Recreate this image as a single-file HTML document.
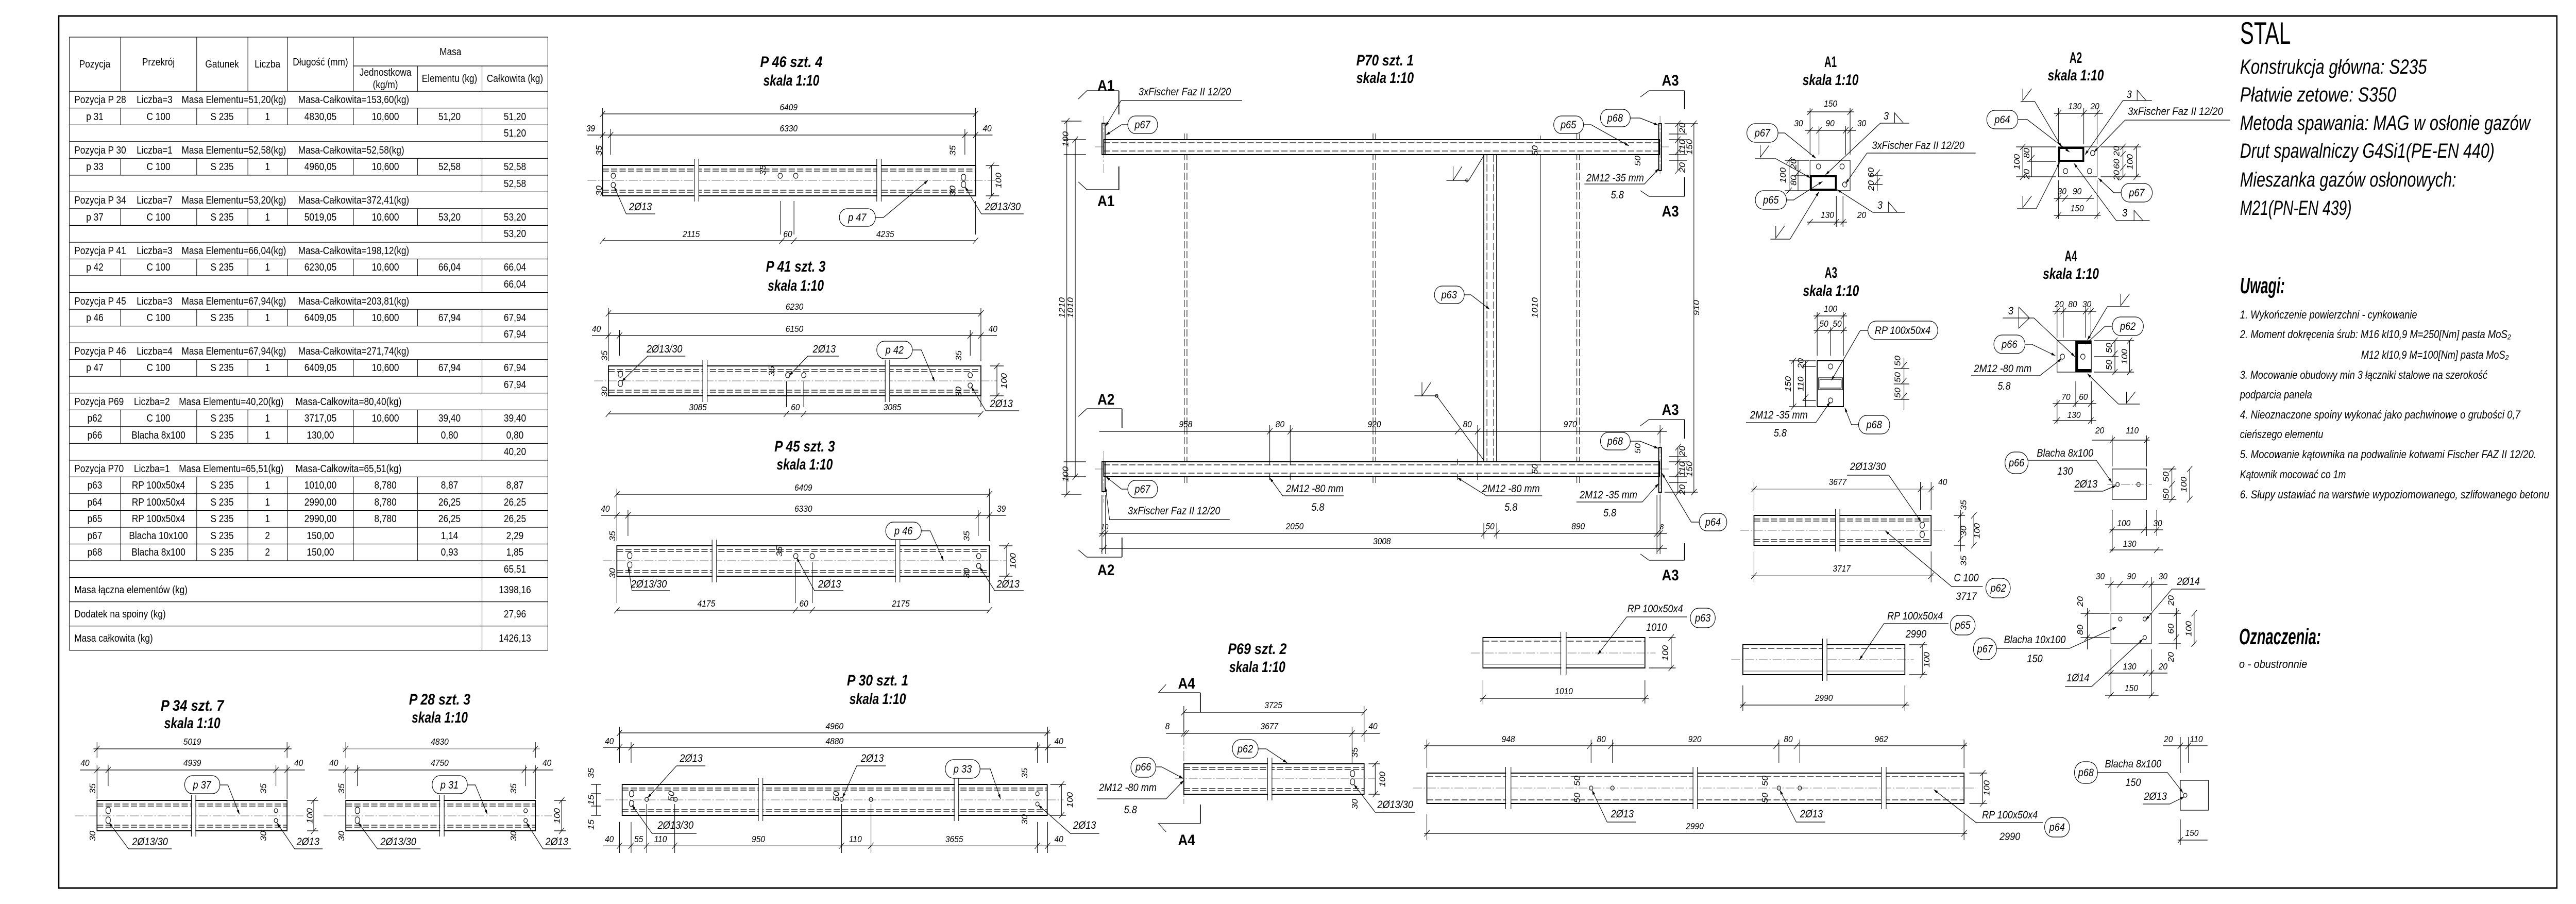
<!DOCTYPE html>
<html><head><meta charset="utf-8"><style>
html,body{margin:0;padding:0;background:#fff;width:100%;height:100%;overflow:hidden}
svg{display:block;width:100vw;height:100vh}
.o{fill:none;stroke:#000;stroke-width:2}
.ow{fill:#fff;stroke:#000;stroke-width:2}
.t{fill:none;stroke:#000;stroke-width:1.2}
.g{fill:none;stroke:#999;stroke-width:1.5}
.d{fill:none;stroke:#000;stroke-width:1.2;stroke-dasharray:14 5}
.c{fill:none;stroke:#777;stroke-width:1.1;stroke-dasharray:20 4 3 4}
.b{fill:#fff;stroke:#000;stroke-width:1.2}
.w{fill:#fff;stroke:none}
text{font-family:"Liberation Sans",sans-serif;font-size:18px;font-style:italic;fill:#000}
.m{text-anchor:middle}
.ti{font-size:30px;font-weight:bold;font-style:italic;text-anchor:middle}
.lb{font-size:21px;text-anchor:middle}
.sx{font-size:30px;font-weight:bold;font-style:normal;text-anchor:middle}
.tb{font-size:20px;font-style:normal}
.tbc{font-size:20px;font-style:normal;text-anchor:middle}
.r{font-size:40px}
.n{font-size:22px}
</style></head><body>
<svg viewBox="0 0 5788 1754" preserveAspectRatio="none" xmlns="http://www.w3.org/2000/svg">
<defs><marker id="a" viewBox="0 0 10 10" refX="10" refY="5" markerWidth="9" markerHeight="9" orient="auto" markerUnits="userSpaceOnUse"><path d="M0 2L10 5L0 8z"/></marker></defs>
<rect x="0" y="0" width="5788" height="1754" fill="#fff"/>
<rect x="132" y="31" width="5613" height="1692" fill="none" stroke="#000" stroke-width="3"/>

<!-- TABLE -->
<g>
<rect x="156" y="72" width="1075" height="1189.7" class="t"/>
<path class="t" d="M794 128H1231M156 177.2H1231M271 72V177.2M442 72V177.2M557 72V177.2M646 72V177.2M794 72V177.2M938 128V177.2M1083 128V177.2"/>
<path class="t" d="M156 209.7H1231M156 242.3H1231M156 274.8H1231M156 307.3H1231M156 339.9H1231M156 372.4H1231M156 404.9H1231M156 437.4H1231M156 470H1231M156 502.5H1231M156 535H1231M156 567.6H1231M156 600.1H1231M156 632.6H1231M156 665.2H1231M156 697.7H1231M156 730.2H1231M156 762.7H1231M156 795.3H1231M156 827.8H1231M156 860.3H1231M156 892.9H1231M156 925.4H1231M156 957.9H1231M156 990.6H1231M156 1023H1231M156 1055.5H1231M156 1088H1231M156 1120.5H1231M156 1167.6H1231M156 1214.6H1231"/>
<path class="t" d="M271 209.7V242.3M442 209.7V242.3M557 209.7V242.3M646 209.7V242.3M794 209.7V242.3M938 209.7V242.3M1083 209.7V274.8
M271 307.3V339.9M442 307.3V339.9M557 307.3V339.9M646 307.3V339.9M794 307.3V339.9M938 307.3V339.9M1083 307.3V372.4
M271 404.9V437.4M442 404.9V437.4M557 404.9V437.4M646 404.9V437.4M794 404.9V437.4M938 404.9V437.4M1083 404.9V470
M271 502.5V535M442 502.5V535M557 502.5V535M646 502.5V535M794 502.5V535M938 502.5V535M1083 502.5V567.6
M271 600.1V632.6M442 600.1V632.6M557 600.1V632.6M646 600.1V632.6M794 600.1V632.6M938 600.1V632.6M1083 600.1V665.2
M271 697.7V730.2M442 697.7V730.2M557 697.7V730.2M646 697.7V730.2M794 697.7V730.2M938 697.7V730.2M1083 697.7V762.7
M271 795.3V860.3M442 795.3V860.3M557 795.3V860.3M646 795.3V860.3M794 795.3V860.3M938 795.3V860.3M1083 795.3V892.9
M271 925.4V1088M442 925.4V1088M557 925.4V1088M646 925.4V1088M794 925.4V1088M938 925.4V1088M1083 925.4V1261.7"/>
<text class="tbc" x="213" y="131">Pozycja</text>
<text class="tbc" x="356" y="127">Przekrój</text>
<text class="tbc" x="499" y="131">Gatunek</text>
<text class="tbc" x="601" y="131">Liczba</text>
<text class="tbc" x="720" y="127">Długość (mm)</text>
<text class="tbc" x="1012" y="107">Masa</text>
<text class="tbc" x="866" y="147">Jednostkowa</text>
<text class="tbc" x="866" y="171">(kg/m)</text>
<text class="tbc" x="1010" y="159">Elementu (kg)</text>
<text class="tbc" x="1157" y="159">Całkowita (kg)</text>
<g>
<text class="tb" x="167" y="200">Pozycja P 28</text><text class="tb" x="307" y="200">Liczba=3</text><text class="tb" x="408" y="200">Masa Elementu=51,20(kg)</text><text class="tb" x="670" y="200">Masa-Całkowita=153,60(kg)</text>
<text class="tb" x="167" y="298">Pozycja P 30</text><text class="tb" x="307" y="298">Liczba=1</text><text class="tb" x="408" y="298">Masa Elementu=52,58(kg)</text><text class="tb" x="670" y="298">Masa-Całkowita=52,58(kg)</text>
<text class="tb" x="167" y="395">Pozycja P 34</text><text class="tb" x="307" y="395">Liczba=7</text><text class="tb" x="408" y="395">Masa Elementu=53,20(kg)</text><text class="tb" x="670" y="395">Masa-Całkowita=372,41(kg)</text>
<text class="tb" x="167" y="493">Pozycja P 41</text><text class="tb" x="307" y="493">Liczba=3</text><text class="tb" x="408" y="493">Masa Elementu=66,04(kg)</text><text class="tb" x="670" y="493">Masa-Całkowita=198,12(kg)</text>
<text class="tb" x="167" y="591">Pozycja P 45</text><text class="tb" x="307" y="591">Liczba=3</text><text class="tb" x="408" y="591">Masa Elementu=67,94(kg)</text><text class="tb" x="670" y="591">Masa-Całkowita=203,81(kg)</text>
<text class="tb" x="167" y="688">Pozycja P 46</text><text class="tb" x="307" y="688">Liczba=4</text><text class="tb" x="408" y="688">Masa Elementu=67,94(kg)</text><text class="tb" x="670" y="688">Masa-Całkowita=271,74(kg)</text>
<text class="tb" x="167" y="786">Pozycja P69</text><text class="tb" x="301" y="786">Liczba=2</text><text class="tb" x="402" y="786">Masa Elementu=40,20(kg)</text><text class="tb" x="664" y="786">Masa-Całkowita=80,40(kg)</text>
<text class="tb" x="167" y="916">Pozycja P70</text><text class="tb" x="301" y="916">Liczba=1</text><text class="tb" x="402" y="916">Masa Elementu=65,51(kg)</text><text class="tb" x="664" y="916">Masa-Całkowita=65,51(kg)</text>
</g>
<g>
<text class="tbc" x="213" y="233">p 31</text><text class="tbc" x="356" y="233">C 100</text><text class="tbc" x="499" y="233">S 235</text><text class="tbc" x="601" y="233">1</text><text class="tbc" x="720" y="233">4830,05</text><text class="tbc" x="866" y="233">10,600</text><text class="tbc" x="1010" y="233">51,20</text><text class="tbc" x="1157" y="233">51,20</text>
<text class="tbc" x="1157" y="265">51,20</text>
<text class="tbc" x="213" y="330">p 33</text><text class="tbc" x="356" y="330">C 100</text><text class="tbc" x="499" y="330">S 235</text><text class="tbc" x="601" y="330">1</text><text class="tbc" x="720" y="330">4960,05</text><text class="tbc" x="866" y="330">10,600</text><text class="tbc" x="1010" y="330">52,58</text><text class="tbc" x="1157" y="330">52,58</text>
<text class="tbc" x="1157" y="363">52,58</text>
<text class="tbc" x="213" y="428">p 37</text><text class="tbc" x="356" y="428">C 100</text><text class="tbc" x="499" y="428">S 235</text><text class="tbc" x="601" y="428">1</text><text class="tbc" x="720" y="428">5019,05</text><text class="tbc" x="866" y="428">10,600</text><text class="tbc" x="1010" y="428">53,20</text><text class="tbc" x="1157" y="428">53,20</text>
<text class="tbc" x="1157" y="460">53,20</text>
<text class="tbc" x="213" y="525">p 42</text><text class="tbc" x="356" y="525">C 100</text><text class="tbc" x="499" y="525">S 235</text><text class="tbc" x="601" y="525">1</text><text class="tbc" x="720" y="525">6230,05</text><text class="tbc" x="866" y="525">10,600</text><text class="tbc" x="1010" y="525">66,04</text><text class="tbc" x="1157" y="525">66,04</text>
<text class="tbc" x="1157" y="558">66,04</text>
<text class="tbc" x="213" y="623">p 46</text><text class="tbc" x="356" y="623">C 100</text><text class="tbc" x="499" y="623">S 235</text><text class="tbc" x="601" y="623">1</text><text class="tbc" x="720" y="623">6409,05</text><text class="tbc" x="866" y="623">10,600</text><text class="tbc" x="1010" y="623">67,94</text><text class="tbc" x="1157" y="623">67,94</text>
<text class="tbc" x="1157" y="655">67,94</text>
<text class="tbc" x="213" y="720">p 47</text><text class="tbc" x="356" y="720">C 100</text><text class="tbc" x="499" y="720">S 235</text><text class="tbc" x="601" y="720">1</text><text class="tbc" x="720" y="720">6409,05</text><text class="tbc" x="866" y="720">10,600</text><text class="tbc" x="1010" y="720">67,94</text><text class="tbc" x="1157" y="720">67,94</text>
<text class="tbc" x="1157" y="753">67,94</text>
<text class="tbc" x="213" y="818">p62</text><text class="tbc" x="356" y="818">C 100</text><text class="tbc" x="499" y="818">S 235</text><text class="tbc" x="601" y="818">1</text><text class="tbc" x="720" y="818">3717,05</text><text class="tbc" x="866" y="818">10,600</text><text class="tbc" x="1010" y="818">39,40</text><text class="tbc" x="1157" y="818">39,40</text>
<text class="tbc" x="213" y="851">p66</text><text class="tbc" x="356" y="851">Blacha 8x100</text><text class="tbc" x="499" y="851">S 235</text><text class="tbc" x="601" y="851">1</text><text class="tbc" x="720" y="851">130,00</text><text class="tbc" x="1010" y="851">0,80</text><text class="tbc" x="1157" y="851">0,80</text>
<text class="tbc" x="1157" y="883">40,20</text>
<text class="tbc" x="213" y="948">p63</text><text class="tbc" x="356" y="948">RP 100x50x4</text><text class="tbc" x="499" y="948">S 235</text><text class="tbc" x="601" y="948">1</text><text class="tbc" x="720" y="948">1010,00</text><text class="tbc" x="866" y="948">8,780</text><text class="tbc" x="1010" y="948">8,87</text><text class="tbc" x="1157" y="948">8,87</text>
<text class="tbc" x="213" y="981">p64</text><text class="tbc" x="356" y="981">RP 100x50x4</text><text class="tbc" x="499" y="981">S 235</text><text class="tbc" x="601" y="981">1</text><text class="tbc" x="720" y="981">2990,00</text><text class="tbc" x="866" y="981">8,780</text><text class="tbc" x="1010" y="981">26,25</text><text class="tbc" x="1157" y="981">26,25</text>
<text class="tbc" x="213" y="1013">p65</text><text class="tbc" x="356" y="1013">RP 100x50x4</text><text class="tbc" x="499" y="1013">S 235</text><text class="tbc" x="601" y="1013">1</text><text class="tbc" x="720" y="1013">2990,00</text><text class="tbc" x="866" y="1013">8,780</text><text class="tbc" x="1010" y="1013">26,25</text><text class="tbc" x="1157" y="1013">26,25</text>
<text class="tbc" x="213" y="1046">p67</text><text class="tbc" x="356" y="1046">Blacha 10x100</text><text class="tbc" x="499" y="1046">S 235</text><text class="tbc" x="601" y="1046">2</text><text class="tbc" x="720" y="1046">150,00</text><text class="tbc" x="1010" y="1046">1,14</text><text class="tbc" x="1157" y="1046">2,29</text>
<text class="tbc" x="213" y="1078">p68</text><text class="tbc" x="356" y="1078">Blacha 8x100</text><text class="tbc" x="499" y="1078">S 235</text><text class="tbc" x="601" y="1078">2</text><text class="tbc" x="720" y="1078">150,00</text><text class="tbc" x="1010" y="1078">0,93</text><text class="tbc" x="1157" y="1078">1,85</text>
<text class="tbc" x="1157" y="1111">65,51</text>
<text class="tb" x="167" y="1151">Masa łączna elementów (kg)</text><text class="tbc" x="1157" y="1151">1398,16</text>
<text class="tb" x="167" y="1198">Dodatek na spoiny (kg)</text><text class="tbc" x="1157" y="1198">27,96</text>
<text class="tb" x="167" y="1245">Masa całkowita (kg)</text><text class="tbc" x="1157" y="1245">1426,13</text>
</g>
</g>

<!-- RIGHT TEXT -->
<g>
<text x="5033" y="85" style="font-size:60px;font-style:normal" textLength="114" lengthAdjust="spacingAndGlyphs">STAL</text>
<text class="r" x="5033" y="143" textLength="420" lengthAdjust="spacingAndGlyphs">Konstrukcja główna: S235</text>
<text class="r" x="5033" y="197" textLength="351" lengthAdjust="spacingAndGlyphs">Płatwie zetowe: S350</text>
<text class="r" x="5033" y="252" textLength="652" lengthAdjust="spacingAndGlyphs">Metoda spawania: MAG w osłonie gazów</text>
<text class="r" x="5033" y="306" textLength="572" lengthAdjust="spacingAndGlyphs">Drut spawalniczy G4Si1(PE-EN 440)</text>
<text class="r" x="5033" y="362" textLength="486" lengthAdjust="spacingAndGlyphs">Mieszanka gazów osłonowych:</text>
<text class="r" x="5033" y="417" textLength="251" lengthAdjust="spacingAndGlyphs">M21(PN-EN 439)</text>
<text x="5033" y="569" style="font-size:44px;font-weight:bold" textLength="101" lengthAdjust="spacingAndGlyphs">Uwagi:</text>
<text class="n" x="5033" y="618" textLength="398" lengthAdjust="spacingAndGlyphs">1. Wykończenie powierzchni - cynkowanie</text>
<text class="n" x="5033" y="656" textLength="609" lengthAdjust="spacingAndGlyphs">2. Moment dokręcenia śrub: M16 kl10,9   M=250[Nm] pasta MoS₂</text>
<text class="n" x="5305" y="696" textLength="332" lengthAdjust="spacingAndGlyphs">M12 kl10,9   M=100[Nm] pasta MoS₂</text>
<text class="n" x="5033" y="735" textLength="556" lengthAdjust="spacingAndGlyphs">3. Mocowanie obudowy min 3 łączniki stalowe na szerokość</text>
<text class="n" x="5033" y="773" textLength="162" lengthAdjust="spacingAndGlyphs">podparcia panela</text>
<text class="n" x="5033" y="812" textLength="630" lengthAdjust="spacingAndGlyphs">4. Nieoznaczone spoiny wykonać jako pachwinowe o grubości 0,7</text>
<text class="n" x="5033" y="850" textLength="187" lengthAdjust="spacingAndGlyphs">cieńszego elementu</text>
<text class="n" x="5033" y="889" textLength="666" lengthAdjust="spacingAndGlyphs">5. Mocowanie kątownika na podwalinie kotwami Fischer FAZ II 12/20.</text>
<text class="n" x="5033" y="928" textLength="238" lengthAdjust="spacingAndGlyphs">Kątownik mocować co 1m</text>
<text class="n" x="5033" y="967" textLength="695" lengthAdjust="spacingAndGlyphs">6. Słupy ustawiać na warstwie wypoziomowanego, szlifowanego betonu</text>
<text x="5031" y="1250" style="font-size:44px;font-weight:bold" textLength="184" lengthAdjust="spacingAndGlyphs">Oznaczenia:</text>
<text class="n" x="5031" y="1296" textLength="153" lengthAdjust="spacingAndGlyphs">o - obustronnie</text>
</g>

<!-- P46 -->
<g>
<text class="ti" x="1778" y="130" textLength="140" lengthAdjust="spacingAndGlyphs">P 46  szt. 4</text>
<text class="ti" x="1778" y="166" textLength="126" lengthAdjust="spacingAndGlyphs">skala  1:10</text>
<path class="c" d="M1320 350H2235"/>
<rect class="o" x="1354" y="321" width="838" height="59"/>
<path class="d" d="M1354 328H2192M1354 332H2192M1354 369H2192M1354 373H2192"/>
<rect class="w" x="1561" y="309" width="9" height="82"/><rect class="w" x="1971" y="309" width="9" height="82"/>
<path class="t" d="M1560 309V391M1570 309V391M1970 309V391M1980 309V391"/>
<circle class="t" cx="1378" cy="341" r="5"/><circle class="t" cx="1378" cy="359" r="5"/><circle class="t" cx="1753" cy="341" r="5"/><circle class="t" cx="1788" cy="341" r="5"/>
<rect class="t" x="2160" y="338" width="10" height="12" rx="5"/><rect class="t" x="2160" y="352" width="10" height="12" rx="5"/>
<path class="t" d="M1354 221H2192M1348 227l12-12M2186 227l12-12M1354 210V320M2192 210V320M1320 262H2230M1348 268l12-12M1366 268l12-12M2162 268l12-12M2186 268l12-12M1372 250V300M2168 250V300M1354 467H2192M1348 473l12-12M1751 473l12-12M1778 473l12-12M2186 473l12-12M1754 455V390M1784 455V390M2192 455V390M2228 321V380M2222 327l12-12M2222 386l12-12M2215 321H2245M2215 380H2245"/>
<text class="m" x="1772" y="214">6409</text><text class="m" x="1772" y="255">6330</text><text class="m" x="1327" y="255">39</text><text class="m" x="2218" y="255">40</text>
<text class="m" x="1553" y="460">2115</text><text class="m" x="1770" y="460">60</text><text class="m" x="1989" y="460">4235</text>
<text class="m" transform="translate(2250,350) rotate(-90)">100</text>
<text class="m" transform="translate(1352,292) rotate(-90)">35</text><text class="m" transform="translate(1352,370) rotate(-90)">30</text>
<text class="m" transform="translate(2147,292) rotate(-90)">35</text><text class="m" transform="translate(2147,370) rotate(-90)">30</text>
<text class="m" transform="translate(1720,330) rotate(-90)">35</text>
<text class="lb" x="1439" y="408">2Ø13</text><path class="t" d="M1472 415H1407L1380 362" marker-end="url(#a)"/>
<text class="lb" x="2253" y="408">2Ø13/30</text><path class="t" d="M2300 415H2205L2168 362" marker-end="url(#a)"/>
<rect class="b" x="1886" y="405" width="81" height="34" rx="17"/><text class="lb" x="1926" y="429">p 47</text>
<path class="t" d="M1967 422H1985L2085 350" marker-end="url(#a)"/>
</g>

<!-- P41 -->
<g>
<text class="ti" x="1788" y="527" textLength="134" lengthAdjust="spacingAndGlyphs">P 41  szt. 3</text>
<text class="ti" x="1788" y="564" textLength="126" lengthAdjust="spacingAndGlyphs">skala  1:10</text>
<path class="c" d="M1335 739H2240"/>
<rect class="o" x="1367" y="710" width="837" height="58"/>
<path class="d" d="M1367 717H2204M1367 721H2204M1367 757H2204M1367 761H2204"/>
<rect class="w" x="1580" y="698" width="9" height="82"/><rect class="w" x="1990" y="698" width="9" height="82"/>
<path class="t" d="M1579 698V780M1589 698V780M1989 698V780M1999 698V780"/>
<rect class="t" x="1389" y="720" width="10" height="12" rx="5"/><rect class="t" x="1389" y="738" width="10" height="12" rx="5"/>
<circle class="t" cx="1770" cy="728" r="5"/><circle class="t" cx="1806" cy="728" r="5"/><circle class="t" cx="2180" cy="728" r="5"/><circle class="t" cx="2180" cy="748" r="5"/>
<path class="t" d="M1367 608H2204M1361 614l12-12M2198 614l12-12M1367 598V700M2204 598V700M1330 651H2240M1361 657l12-12M1386 657l12-12M2174 657l12-12M2198 657l12-12M1392 640V690M2180 640V690M1367 803H2204M1361 809l12-12M1761 809l12-12M1800 809l12-12M2198 809l12-12M1767 790V740M1806 790V740M2204 790V768M2240 710V768M2234 716l12-12M2234 774l12-12M2225 710H2255M2225 768H2255"/>
<text class="m" x="1785" y="601">6230</text><text class="m" x="1785" y="644">6150</text><text class="m" x="1340" y="644">40</text><text class="m" x="2231" y="644">40</text>
<text class="m" x="1568" y="796">3085</text><text class="m" x="1787" y="796">60</text><text class="m" x="2005" y="796">3085</text>
<text class="m" transform="translate(2262,739) rotate(-90)">100</text>
<text class="m" transform="translate(1364,690) rotate(-90)">35</text><text class="m" transform="translate(1364,760) rotate(-90)">30</text>
<text class="m" transform="translate(2160,690) rotate(-90)">35</text><text class="m" transform="translate(2160,760) rotate(-90)">30</text>
<text class="m" transform="translate(1740,720) rotate(-90)">35</text>
<text class="lb" x="1493" y="684">2Ø13/30</text><path class="t" d="M1540 691H1455L1397 740" marker-end="url(#a)"/>
<text class="lb" x="1852" y="684">2Ø13</text><path class="t" d="M1885 691H1815L1773 729" marker-end="url(#a)"/>
<rect class="b" x="1970" y="662" width="80" height="34" rx="17"/><text class="lb" x="2010" y="686">p 42</text>
<path class="t" d="M2050 679H2070L2100 740" marker-end="url(#a)"/>
<text class="lb" x="2250" y="790">2Ø13</text><path class="t" d="M2290 797H2215L2182 750" marker-end="url(#a)"/>
</g>

<!-- P45 -->
<g>
<text class="ti" x="1808" y="876" textLength="136" lengthAdjust="spacingAndGlyphs">P 45  szt. 3</text>
<text class="ti" x="1808" y="911" textLength="126" lengthAdjust="spacingAndGlyphs">skala  1:10</text>
<path class="c" d="M1355 1088H2260"/>
<rect class="o" x="1386" y="1059" width="837" height="59"/>
<path class="d" d="M1386 1066H2223M1386 1070H2223M1386 1107H2223M1386 1111H2223"/>
<rect class="w" x="1601" y="1047" width="9" height="83"/><rect class="w" x="2013" y="1047" width="9" height="83"/>
<path class="t" d="M1600 1047V1130M1610 1047V1130M2012 1047V1130M2022 1047V1130"/>
<rect class="t" x="1410" y="1072" width="10" height="12" rx="5"/><rect class="t" x="1410" y="1090" width="10" height="12" rx="5"/>
<circle class="t" cx="1788" cy="1079" r="5"/><circle class="t" cx="1825" cy="1079" r="5"/><circle class="t" cx="2199" cy="1079" r="5"/><circle class="t" cx="2199" cy="1098" r="5"/>
<path class="t" d="M1386 959H2223M1380 965l12-12M2217 965l12-12M1386 948V1050M2223 948V1050M1350 1000H2260M1380 1006l12-12M1405 1006l12-12M2192 1006l12-12M2217 1006l12-12M1411 990V1040M2198 990V1040M1386 1184H2223M1380 1190l12-12M1781 1190l12-12M1819 1190l12-12M2217 1190l12-12M1787 1170V1090M1825 1170V1090M1386 1170V1118M2223 1170V1118M2262 1059V1118M2256 1065l12-12M2256 1124l12-12M2245 1059H2275M2245 1118H2275"/>
<text class="m" x="1805" y="952">6409</text><text class="m" x="1805" y="993">6330</text><text class="m" x="1360" y="993">40</text><text class="m" x="2250" y="993">39</text>
<text class="m" x="1587" y="1177">4175</text><text class="m" x="1806" y="1177">60</text><text class="m" x="2024" y="1177">2175</text>
<text class="m" transform="translate(2282,1088) rotate(-90)">100</text>
<text class="m" transform="translate(1382,1040) rotate(-90)">35</text><text class="m" transform="translate(1382,1112) rotate(-90)">30</text>
<text class="m" transform="translate(2178,1040) rotate(-90)">35</text><text class="m" transform="translate(2178,1112) rotate(-90)">30</text>
<text class="m" transform="translate(1757,1070) rotate(-90)">35</text>
<rect class="b" x="1990" y="1013" width="80" height="34" rx="17"/><text class="lb" x="2030" y="1037">p 46</text>
<path class="t" d="M2070 1030H2090L2120 1088" marker-end="url(#a)"/>
<text class="lb" x="1458" y="1140">2Ø13/30</text><path class="t" d="M1505 1146H1420L1412 1100" marker-end="url(#a)"/>
<text class="lb" x="1864" y="1140">2Ø13</text><path class="t" d="M1895 1146H1830L1790 1082" marker-end="url(#a)"/>
<text class="lb" x="2265" y="1140">2Ø13</text><path class="t" d="M2300 1146H2235L2201 1100" marker-end="url(#a)"/>
</g>

<!-- P34 -->
<g>
<text class="ti" x="432" y="1379" textLength="142" lengthAdjust="spacingAndGlyphs">P 34  szt. 7</text>
<text class="ti" x="432" y="1413" textLength="126" lengthAdjust="spacingAndGlyphs">skala  1:10</text>
<path class="c" d="M168 1583H682"/>
<rect class="o" x="218" y="1553" width="427" height="59"/>
<path class="d" d="M218 1560H645M218 1564H645M218 1601H645M218 1605H645"/>
<rect class="w" x="431" y="1542" width="8" height="81"/><path class="t" d="M430 1542V1623M440 1542V1623"/>
<rect class="t" x="238" y="1566" width="10" height="13" rx="5"/><rect class="t" x="238" y="1585" width="10" height="13" rx="5"/>
<circle class="t" cx="620" cy="1573" r="4"/><circle class="t" cx="620" cy="1592" r="4"/>
<path class="t" d="M210 1453H655M212 1459l12-12M639 1459l12-12M218 1440V1470M645 1440V1470M180 1494H685M212 1500l12-12M237 1500l12-12M614 1500l12-12M639 1500l12-12M243 1485V1525M620 1485V1525M218 1485V1550M645 1485V1550M705 1553V1612M699 1559l12-12M699 1618l12-12M690 1553H715M690 1612H715"/>
<text class="m" x="432" y="1445">5019</text><text class="m" x="432" y="1486">4939</text><text class="m" x="191" y="1486">40</text><text class="m" x="671" y="1486">40</text>
<text class="m" transform="translate(702,1583) rotate(-90)">100</text>
<text class="m" transform="translate(214,1530) rotate(-90)">35</text><text class="m" transform="translate(214,1622) rotate(-90)">30</text>
<text class="m" transform="translate(598,1530) rotate(-90)">35</text><text class="m" transform="translate(598,1622) rotate(-90)">30</text>
<rect class="b" x="415" y="1505" width="79" height="35" rx="17"/><text class="lb" x="454" y="1530">p 37</text>
<path class="t" d="M494 1523H512L538 1580" marker-end="url(#a)"/>
<text class="lb" x="337" y="1640">2Ø13/30</text><path class="t" d="M386 1647H289L245 1596" marker-end="url(#a)"/>
<text class="lb" x="692" y="1640">2Ø13</text><path class="t" d="M725 1647H662L622 1596" marker-end="url(#a)"/>
</g>

<!-- P28 -->
<g>
<text class="ti" x="988" y="1367" textLength="138" lengthAdjust="spacingAndGlyphs">P 28  szt. 3</text>
<text class="ti" x="988" y="1402" textLength="126" lengthAdjust="spacingAndGlyphs">skala  1:10</text>
<path class="c" d="M727 1583H1240"/>
<rect class="o" x="777" y="1553" width="426" height="59"/>
<path class="d" d="M777 1560H1203M777 1564H1203M777 1601H1203M777 1605H1203"/>
<rect class="w" x="989" y="1542" width="8" height="81"/><path class="t" d="M988 1542V1623M998 1542V1623"/>
<rect class="t" x="798" y="1566" width="10" height="13" rx="5"/><rect class="t" x="798" y="1585" width="10" height="13" rx="5"/>
<circle class="t" cx="1181" cy="1573" r="4"/><circle class="t" cx="1181" cy="1592" r="4"/>
<path class="g" d="M770 1453H1213"/>
<path class="t" d="M771 1459l12-12M1197 1459l12-12M777 1440V1470M1203 1440V1470M738 1494H1243M771 1500l12-12M796 1500l12-12M1172 1500l12-12M1197 1500l12-12M803 1485V1525M1181 1485V1525M777 1485V1550M1203 1485V1550M1262 1553V1612M1256 1559l12-12M1256 1618l12-12M1245 1553H1272M1245 1612H1272"/>
<text class="m" x="988" y="1445">4830</text><text class="m" x="988" y="1486">4750</text><text class="m" x="750" y="1486">40</text><text class="m" x="1229" y="1486">40</text>
<text class="m" transform="translate(1258,1583) rotate(-90)">100</text>
<text class="m" transform="translate(773,1530) rotate(-90)">35</text><text class="m" transform="translate(773,1622) rotate(-90)">30</text>
<text class="m" transform="translate(1160,1530) rotate(-90)">35</text><text class="m" transform="translate(1160,1622) rotate(-90)">30</text>
<rect class="b" x="971" y="1505" width="79" height="35" rx="17"/><text class="lb" x="1010" y="1530">p 31</text>
<path class="t" d="M1050 1523H1068L1095 1580" marker-end="url(#a)"/>
<text class="lb" x="895" y="1640">2Ø13/30</text><path class="t" d="M945 1647H848L805 1596" marker-end="url(#a)"/>
<text class="lb" x="1251" y="1640">2Ø13</text><path class="t" d="M1283 1647H1220L1183 1596" marker-end="url(#a)"/>
</g>

<!-- P30 -->
<g>
<text class="ti" x="1972" y="1330" textLength="138" lengthAdjust="spacingAndGlyphs">P 30  szt. 1</text>
<text class="ti" x="1972" y="1366" textLength="127" lengthAdjust="spacingAndGlyphs">skala  1:10</text>
<path class="c" d="M1360 1552H2390"/>
<rect class="o" x="1398" y="1522" width="955" height="60"/>
<path class="d" d="M1398 1529H2353M1398 1533H2353M1398 1571H2353M1398 1575H2353"/>
<rect class="w" x="1705" y="1510" width="8" height="83"/><rect class="w" x="2145" y="1510" width="8" height="83"/>
<path class="t" d="M1704 1510V1593M1714 1510V1593M2144 1510V1593M2154 1510V1593"/>
<rect class="t" x="1414" y="1534" width="10" height="12" rx="5"/><rect class="t" x="1414" y="1553" width="10" height="12" rx="5"/>
<circle class="t" cx="1453" cy="1551" r="4"/><circle class="t" cx="1518" cy="1551" r="4"/><circle class="t" cx="1891" cy="1551" r="4"/><circle class="t" cx="1957" cy="1551" r="4"/><circle class="t" cx="2331" cy="1540" r="4"/><circle class="t" cx="2331" cy="1560" r="4"/>
<path class="t" d="M1392 1422H2360M1386 1428l12-12M2347 1428l12-12M1392 1410V1480M2354 1410V1480M1355 1450H2395M1386 1456l12-12M1412 1456l12-12M2325 1456l12-12M2348 1456l12-12M1418 1440V1480M2331 1440V1480"/>
<path class="g" d="M1355 1641H2395"/>
<path class="t" d="M1386 1647l12-12M1412 1647l12-12M1447 1647l12-12M1510 1647l12-12M1885 1647l12-12M1951 1647l12-12M2325 1647l12-12M2348 1647l12-12M1392 1595V1655M1418 1595V1655M1453 1560V1655M1516 1560V1655M1891 1560V1655M1957 1560V1655M2331 1595V1655M2354 1595V1655M2385 1522V1582M2379 1528l12-12M2379 1588l12-12M2360 1522H2395M2360 1582H2395M1340 1522V1582M1328 1522H1350M1328 1540H1350M1328 1564H1350M1328 1582H1350"/>
<text class="m" x="1875" y="1415">4960</text><text class="m" x="1875" y="1444">4880</text><text class="m" x="1369" y="1444">40</text><text class="m" x="2379" y="1444">40</text>
<text class="m" x="1369" y="1634">40</text><text class="m" x="1435" y="1634">55</text><text class="m" x="1484" y="1634">110</text><text class="m" x="1704" y="1634">950</text><text class="m" x="1922" y="1634">110</text><text class="m" x="2144" y="1634">3655</text><text class="m" x="2379" y="1634">40</text>
<text class="m" transform="translate(2410,1552) rotate(-90)">100</text>
<text class="m" transform="translate(1334,1500) rotate(-90)">35</text><text class="m" transform="translate(1334,1552) rotate(-90)">15</text><text class="m" transform="translate(1334,1600) rotate(-90)">15</text>
<text class="m" transform="translate(1515,1545) rotate(-90)">50</text><text class="m" transform="translate(1885,1545) rotate(-90)">50</text>
<text class="m" transform="translate(2308,1500) rotate(-90)">35</text><text class="m" transform="translate(2308,1590) rotate(-90)">30</text>
<text class="lb" x="1553" y="1478">2Ø13</text><path class="t" d="M1585 1486H1520L1455 1548" marker-end="url(#a)"/>
<text class="lb" x="1960" y="1478">2Ø13</text><path class="t" d="M1990 1486H1925L1893 1548" marker-end="url(#a)"/>
<rect class="b" x="2124" y="1474" width="78" height="36" rx="18"/><text class="lb" x="2163" y="1499">p 33</text>
<path class="t" d="M2202 1492H2225L2248 1550" marker-end="url(#a)"/>
<text class="lb" x="1518" y="1608">2Ø13/30</text><path class="t" d="M1565 1617H1465L1420 1562" marker-end="url(#a)"/>
<text class="lb" x="2437" y="1608">2Ø13</text><path class="t" d="M2470 1617H2405L2333 1562" marker-end="url(#a)"/>
</g>

<!-- P69 -->
<g>
<text class="ti" x="2825" y="1269" textLength="132" lengthAdjust="spacingAndGlyphs">P69  szt. 2</text>
<text class="ti" x="2825" y="1304" textLength="126" lengthAdjust="spacingAndGlyphs">skala  1:10</text>
<text class="sx" x="2666" y="1336">A4</text>
<path class="t" d="M2620 1328L2603 1344H2697" /><path class="o" d="M2697 1344V1381"/>
<text class="sx" x="2666" y="1640">A4</text>
<path class="t" d="M2620 1614L2603 1598H2697"/><path class="o" d="M2697 1561V1598"/>
<path class="c" d="M2640 1511H3090M2660 1395V1560"/>
<rect class="o" x="2660" y="1482" width="405" height="59"/>
<path class="d" d="M2660 1489H3065M2660 1493H3065M2660 1530H3065M2660 1534H3065"/>
<rect class="w" x="2849" y="1470" width="8" height="83"/><path class="t" d="M2848 1470V1553M2858 1470V1553"/>
<rect class="t" x="3034" y="1495" width="10" height="12" rx="5"/><rect class="t" x="3034" y="1511" width="10" height="12" rx="5"/>
<path class="t" d="M2660 1382H3065M2654 1388l12-12M3059 1388l12-12M2660 1370V1420M3065 1370V1440M2620 1423H3100M2654 1429l12-12M2659 1429l12-12M3032 1429l12-12M3059 1429l12-12M3038 1410V1480M3090 1482V1541M3084 1488l12-12M3084 1547l12-12M3075 1482H3100M3075 1541H3100"/>
<text class="m" x="2861" y="1374">3725</text><text class="m" x="2852" y="1415">3677</text><text class="m" x="2623" y="1415">8</text><text class="m" x="3085" y="1415">40</text>
<text class="m" transform="translate(3112,1512) rotate(-90)">100</text>
<text class="m" transform="translate(3050,1460) rotate(-90)">35</text><text class="m" transform="translate(3050,1560) rotate(-90)">30</text>
<rect class="b" x="2769" y="1435" width="58" height="36" rx="18"/><text class="lb" x="2798" y="1460">p62</text>
<path class="t" d="M2827 1453H2845L2892 1480" marker-end="url(#a)"/>
<rect class="b" x="2541" y="1470" width="56" height="38" rx="19"/><text class="lb" x="2569" y="1495">p66</text>
<path class="t" d="M2597 1488H2610L2658 1510" marker-end="url(#a)"/>
<text class="lb" x="2534" y="1535">2M12 -80 mm</text><path class="t" d="M2465 1550H2620L2660 1514" marker-end="url(#a)"/>
<text class="lb" x="2540" y="1578">5.8</text>
<text class="lb" x="3135" y="1568">2Ø13/30</text><path class="t" d="M3180 1576H3090L3042 1522" marker-end="url(#a)"/>
</g>

<!-- P70 -->
<g>
<text class="ti" x="3112" y="127" textLength="129" lengthAdjust="spacingAndGlyphs">P70  szt. 1</text>
<text class="ti" x="3112" y="161" textLength="129" lengthAdjust="spacingAndGlyphs">skala  1:10</text>
<text class="sx" x="2485" y="176">A1</text><path class="t" d="M2423 192L2442 176H2514"/><path class="o" d="M2514 176V222"/>
<text class="sx" x="2485" y="400">A1</text><path class="t" d="M2423 353L2442 368H2514"/><path class="o" d="M2514 323V368"/>
<text class="sx" x="2485" y="785">A2</text><path class="t" d="M2423 808L2442 793H2521"/><path class="o" d="M2521 793V830"/>
<text class="sx" x="2485" y="1116">A2</text><path class="t" d="M2423 1067L2442 1081H2521"/><path class="o" d="M2521 1043V1081"/>
<text class="sx" x="3753" y="166">A3</text><path class="t" d="M3686 188L3705 176H3785"/><path class="o" d="M3785 176V212"/>
<text class="sx" x="3753" y="420">A3</text><path class="t" d="M3686 370L3705 381H3785"/><path class="o" d="M3785 344V381"/>
<text class="sx" x="3753" y="805">A3</text><path class="t" d="M3686 826L3705 814H3785"/><path class="o" d="M3785 814V851"/>
<text class="sx" x="3753" y="1126">A3</text><path class="t" d="M3686 1075L3705 1087H3785"/><path class="o" d="M3785 1054V1087"/>
<path class="d" d="M2661 259V937M2667 259V937M3085 259V937M3091 259V937M3543 259V937M3549 259V937"/>
<path class="t" d="M3461 263V898"/>
<path class="c" d="M2460 285H3750M2460 910H3750M2480 225V335M2480 875V975M3730 225V340M3730 860V975"/>
<rect class="ow" x="2480" y="271" width="1249" height="29"/>
<path class="d" d="M2480 277H3729M2480 293H3729"/>
<rect class="ow" x="2480" y="896" width="1249" height="29"/>
<path class="d" d="M2480 902H3729M2480 918H3729"/>
<rect class="ow" x="3334" y="300" width="29" height="596"/>
<path class="d" d="M3341 300V896M3356 300V896"/>
<rect class="o" x="2476" y="239" width="7" height="61"/><rect class="o" x="2476" y="896" width="7" height="58"/>
<rect class="o" x="3727" y="240" width="6" height="91"/><rect class="o" x="3727" y="868" width="6" height="88"/>
<path class="t" d="M2853 890V902M2847 896H2859M2899 890V902M2893 896H2905M3275 890V902M3269 896H3281M3320 890V902M3314 896H3326M2853 919V931M2899 919V931M3275 919V931M3320 919V931"/>
<path class="t" d="M2397 235V959M2391 241l12-12M2391 965l12-12M2416 271V925M2410 277l12-12M2410 931l12-12M2385 235H2430M2385 959H2430M2390 271H2440M2390 925H2440M2390 300H2440M2390 896H2440M3806 240V955M3800 246l12-12M3800 961l12-12M3740 240H3815M3740 955H3815"/>
<path class="t" d="M3770 240V331M3764 246l12-12M3764 277l12-12M3764 300l12-12M3764 337l12-12M3750 260H3790M3750 271H3790M3750 300H3790M3750 311H3790M3770 868V956M3764 874l12-12M3764 902l12-12M3764 925l12-12M3764 962l12-12M3750 886H3790M3750 896H3790M3750 925H3790M3750 936H3790"/>
<text class="m" transform="translate(2392,597) rotate(-90)">1210</text><text class="m" transform="translate(2411,597) rotate(-90)">1010</text>
<text class="m" transform="translate(2400,270) rotate(-90)">100</text><text class="m" transform="translate(2400,920) rotate(-90)">100</text>
<text class="m" transform="translate(3455,597) rotate(-90)">1010</text>
<text class="m" transform="translate(3818,597) rotate(-90)">910</text>
<text class="m" transform="translate(3786,248) rotate(-90)">20</text><text class="m" transform="translate(3786,285) rotate(-90)">110</text><text class="m" transform="translate(3802,285) rotate(-90)">150</text><text class="m" transform="translate(3786,325) rotate(-90)">20</text>
<text class="m" transform="translate(3786,875) rotate(-90)">20</text><text class="m" transform="translate(3786,910) rotate(-90)">110</text><text class="m" transform="translate(3802,910) rotate(-90)">150</text><text class="m" transform="translate(3786,950) rotate(-90)">20</text>
<text class="m" transform="translate(3455,292) rotate(-90)">50</text><text class="m" transform="translate(3455,910) rotate(-90)">50</text>
<text class="m" transform="translate(3686,312) rotate(-90)">50</text><text class="m" transform="translate(3686,870) rotate(-90)">50</text>
<path class="t" d="M2470 837H3745M2847 843l12-12M2893 843l12-12M3269 843l12-12M3314 843l12-12M3724 843l12-12M2853 825V890M2899 825V890M3320 825V890M3730 825V860"/>
<text class="m" x="2664" y="829">958</text><text class="m" x="2876" y="829">80</text><text class="m" x="3088" y="829">920</text><text class="m" x="3297" y="829">80</text><text class="m" x="3528" y="829">970</text>
<path class="t" d="M2470 1035H3745M2470 1041l12-12M2478 1041l12-12M3328 1041l12-12M3357 1041l12-12M3717 1041l12-12M3724 1041l12-12M2476 960V1075M2484 960V1075M3334 1015V1045M3363 1015V1045M3723 960V1075M3730 960V1075M2470 1064H3745M2474 1070l12-12M3724 1070l12-12"/>
<text class="m" x="2482" y="1027" style="font-size:15px">10</text><text class="m" x="2909" y="1027">2050</text><text class="m" x="3348" y="1027">50</text><text class="m" x="3546" y="1027">890</text><text class="m" x="3734" y="1027" style="font-size:15px">8</text>
<text class="m" x="3105" y="1056">3008</text>
<text class="lb" x="2662" y="185">3xFischer Faz II 12/20</text><path class="t" d="M2791 195H2519L2484 245" marker-end="url(#a)"/>
<rect class="b" x="2534" y="225" width="67" height="34" rx="17"/><text class="lb" x="2567" y="249">p67</text><path class="t" d="M2534 242H2520L2485 262" marker-end="url(#a)"/>
<rect class="b" x="3491" y="225" width="67" height="34" rx="17"/><text class="lb" x="3524" y="249">p65</text><path class="t" d="M3558 242H3575L3660 283" marker-end="url(#a)"/>
<rect class="b" x="3596" y="212" width="67" height="34" rx="17"/><text class="lb" x="3629" y="236">p68</text><path class="t" d="M3663 229H3685L3726 243" marker-end="url(#a)"/>
<rect class="b" x="3223" y="555" width="67" height="34" rx="17"/><text class="lb" x="3256" y="579">p63</text><path class="t" d="M3290 572H3305L3347 600" marker-end="url(#a)"/>
<rect class="b" x="3596" y="839" width="67" height="34" rx="17"/><text class="lb" x="3629" y="863">p68</text><path class="t" d="M3663 856H3685L3726 870" marker-end="url(#a)"/>
<rect class="b" x="2534" y="932" width="67" height="34" rx="17"/><text class="lb" x="2567" y="956">p67</text><path class="t" d="M2534 949H2520L2485 925" marker-end="url(#a)"/>
<rect class="b" x="3818" y="996" width="62" height="34" rx="17"/><text class="lb" x="3849" y="1020">p64</text><path class="t" d="M3818 1013H3800L3734 918" marker-end="url(#a)"/>
<text class="lb" x="2638" y="998">3xFischer Faz II 12/20</text><path class="t" d="M2763 1008H2493L2484 945" marker-end="url(#a)"/>
<text class="lb" x="3629" y="352">2M12 -35 mm</text><path class="t" d="M3560 357H3695L3727 327" marker-end="url(#a)"/><text class="lb" x="3634" y="385">5.8</text>
<text class="lb" x="2954" y="955">2M12 -80 mm</text><path class="t" d="M3019 962H2882L2853 927" marker-end="url(#a)"/><text class="lb" x="2961" y="991">5.8</text>
<text class="lb" x="3395" y="955">2M12 -80 mm</text><path class="t" d="M3465 962H3340L3275 927" marker-end="url(#a)"/><text class="lb" x="3395" y="991">5.8</text>
<text class="lb" x="3614" y="967">2M12 -35 mm</text><path class="t" d="M3542 974H3690L3727 938" marker-end="url(#a)"/><text class="lb" x="3617" y="1002">5.8</text>
<path class="t" d="M3250 350H3300M3265 323V350L3285 323M3300 350L3334 302"/><circle class="t" cx="3296" cy="350" r="3"/>
<path class="t" d="M3178 768H3230M3195 742V768L3215 742M3228 768L3334 893"/><circle class="t" cx="3228" cy="768" r="3"/>
</g>

<!-- A1 -->
<g>
<text class="sx" x="4113" y="130" textLength="28" lengthAdjust="spacingAndGlyphs">A1</text>
<text class="ti" x="4113" y="165" textLength="126" lengthAdjust="spacingAndGlyphs">skala  1:10</text>
<rect class="t" x="4067" y="311" width="90" height="59"/>
<rect x="4069" y="342" width="56" height="26" fill="none" stroke="#000" stroke-width="4"/>
<circle class="t" cx="4086" cy="323" r="5"/><circle class="t" cx="4139" cy="323" r="5"/><circle class="t" cx="4145" cy="358" r="5"/>
<path class="t" d="M4060 217H4165M4061 223l12-12M4151 223l12-12M4067 210V300M4157 210V300M4055 253H4170M4061 259l12-12M4081 259l12-12M4141 259l12-12M4151 259l12-12M4087 245V300M4147 245V300M4060 431H4150M4061 437l12-12M4120 437l12-12M4135 437l12-12M4126 380V440M4141 380V440M4020 311V370M4014 317l12-12M4014 376l12-12M4040 311V370M4034 341l12-12M4010 311H4065M4010 370H4065M4030 341H4065M4218 335V370M4212 341l12-12M4212 358l12-12M4200 341H4230M4200 358H4230"/>
<text class="m" x="4113" y="207">150</text><text class="m" x="4041" y="245">30</text><text class="m" x="4112" y="245">90</text><text class="m" x="4183" y="245">30</text>
<text class="m" x="4106" y="423">130</text><text class="m" x="4183" y="423">20</text>
<text class="m" transform="translate(4012,340) rotate(-90)">100</text><text class="m" transform="translate(4036,350) rotate(-90)">80</text><text class="m" transform="translate(4036,318) rotate(-90)">20</text>
<text class="m" transform="translate(4210,360) rotate(-90)">20</text><text class="m" transform="translate(4210,335) rotate(-90)">60</text>
<rect class="b" x="3925" y="240" width="70" height="36" rx="18"/><text class="lb" x="3960" y="265">p67</text><path class="t" d="M3995 258H4010L4080 307" marker-end="url(#a)"/>
<rect class="b" x="3944" y="370" width="70" height="36" rx="18"/><text class="lb" x="3979" y="395">p65</text><path class="t" d="M4014 388H4030L4095 352" marker-end="url(#a)"/>
<text class="lb" x="4238" y="232">3</text><path class="t" d="M4290 239H4225L4102 339" marker-end="url(#a)"/><path class="t" d="M4257 239V219L4277 239"/>
<text class="lb" x="4224" y="405">3</text><path class="t" d="M4280 412H4208L4128 368" marker-end="url(#a)"/><path class="t" d="M4243 412V392L4263 412"/>
<text class="lb" x="4310" y="289">3xFischer Faz II 12/20</text><path class="t" d="M4439 297H4195L4147 356" marker-end="url(#a)"/>
<path class="t" d="M3943 308H3990L4068 345" marker-end="url(#a)"/><path class="t" d="M3955 282V305L3975 282"/>
<path class="t" d="M3978 464H4022L4087 372" marker-end="url(#a)"/><path class="t" d="M3990 438V462L4010 438"/>
</g>

<!-- A2 -->
<g>
<text class="sx" x="4664" y="122" textLength="28" lengthAdjust="spacingAndGlyphs">A2</text>
<text class="ti" x="4664" y="156" textLength="126" lengthAdjust="spacingAndGlyphs">skala  1:10</text>
<rect class="t" x="4625" y="285" width="87" height="58"/>
<rect x="4627" y="287" width="54" height="25" fill="none" stroke="#000" stroke-width="4"/>
<circle class="t" cx="4702" cy="297" r="5"/><circle class="t" cx="4641" cy="332" r="5"/><circle class="t" cx="4695" cy="332" r="5"/>
<path class="t" d="M4615 220H4725M4619 226l12-12M4676 226l12-12M4706 226l12-12M4625 210V280M4682 210V280M4712 210V280M4615 385H4705M4619 391l12-12M4634 391l12-12M4688 391l12-12M4615 418H4720M4619 424l12-12M4706 424l12-12M4625 350V425M4712 350V425M4545 285V343M4539 291l12-12M4539 349l12-12M4565 285V343M4559 313l12-12M4530 285H4620M4530 343H4620M4555 313H4620M4770 285V343M4764 291l12-12M4764 305l12-12M4764 331l12-12M4764 349l12-12M4800 285V343M4794 291l12-12M4794 349l12-12M4720 285H4810M4720 343H4810"/>
<text class="m" x="4662" y="212">130</text><text class="m" x="4707" y="212">20</text>
<text class="m" x="4633" y="377">30</text><text class="m" x="4667" y="377">90</text><text class="m" x="4667" y="410">150</text>
<text class="m" transform="translate(4538,314) rotate(-90)">100</text><text class="m" transform="translate(4560,297) rotate(-90)">80</text><text class="m" transform="translate(4560,338) rotate(-90)">20</text>
<text class="m" transform="translate(4762,293) rotate(-90)">20</text><text class="m" transform="translate(4762,318) rotate(-90)">60</text><text class="m" transform="translate(4762,340) rotate(-90)">20</text><text class="m" transform="translate(4792,314) rotate(-90)">100</text>
<rect class="b" x="4464" y="214" width="70" height="36" rx="18"/><text class="lb" x="4499" y="239">p64</text><path class="t" d="M4534 232H4555L4650 295" marker-end="url(#a)"/>
<rect class="b" x="4766" y="356" width="70" height="36" rx="18"/><text class="lb" x="4801" y="381">p67</text><path class="t" d="M4766 374H4750L4715 346" marker-end="url(#a)"/>
<text class="lb" x="4784" y="190">3</text><path class="t" d="M4835 195H4770L4685 300" marker-end="url(#a)"/><path class="t" d="M4802 195V175L4822 195"/>
<text x="4781" y="223" style="font-size:21px" textLength="214" lengthAdjust="spacingAndGlyphs">3xFischer Faz II 12/20</text>
<path class="t" d="M5011 233H4775L4705 295" marker-end="url(#a)"/>
<text class="lb" x="4774" y="420">3</text><path class="t" d="M4830 428H4755L4660 317" marker-end="url(#a)"/><path class="t" d="M4795 428V408L4815 428"/>
<path class="t" d="M4540 197H4572L4632 285" marker-end="url(#a)"/><path class="t" d="M4545 172V195L4565 172"/>
<path class="t" d="M4532 405H4575L4628 315" marker-end="url(#a)"/><path class="t" d="M4545 380V403L4565 380"/>
</g>

<!-- A3 -->
<g>
<text class="sx" x="4114" y="539" textLength="28" lengthAdjust="spacingAndGlyphs">A3</text>
<text class="ti" x="4114" y="574" textLength="126" lengthAdjust="spacingAndGlyphs">skala  1:10</text>
<rect class="o" x="4083" y="700" width="59" height="89"/>
<rect class="t" x="4086" y="733" width="54" height="23"/><rect class="t" x="4089" y="736" width="48" height="17"/>
<circle class="t" cx="4113" cy="711" r="5"/><circle class="t" cx="4113" cy="777" r="5"/>
<path class="t" d="M4075 613H4150M4077 619l12-12M4136 619l12-12M4075 641H4150M4077 647l12-12M4107 647l12-12M4136 647l12-12M4083 605V690M4142 605V690M4113 635V690M4030 700V789M4024 706l12-12M4024 795l12-12M4057 700V789M4051 711l12-12M4051 777l12-12M4020 700H4080M4020 789H4080M4050 711H4080M4050 777H4080M4278 695V795M4272 715l12-12M4272 745l12-12M4272 775l12-12M4255 715H4290M4255 745H4290M4255 775H4290"/>
<text class="m" x="4113" y="605">100</text><text class="m" x="4098" y="634">50</text><text class="m" x="4128" y="634">50</text>
<text class="m" transform="translate(4024,745) rotate(-90)">150</text><text class="m" transform="translate(4052,745) rotate(-90)">110</text><text class="m" transform="translate(4052,705) rotate(-90)">20</text>
<text class="m" transform="translate(4270,700) rotate(-90)">50</text><text class="m" transform="translate(4270,732) rotate(-90)">50</text><text class="m" transform="translate(4270,762) rotate(-90)">50</text>
<rect class="b" x="4197" y="623" width="157" height="36" rx="18"/><text class="lb" x="4275" y="648">RP 100x50x4</text><path class="t" d="M4197 641H4180L4115 738" marker-end="url(#a)"/>
<rect class="b" x="4176" y="806" width="70" height="36" rx="18"/><text class="lb" x="4211" y="831">p68</text><path class="t" d="M4176 824H4160L4145 791" marker-end="url(#a)"/>
<text class="lb" x="3997" y="812">2M12 -35 mm</text><path class="t" d="M3923 820H4080L4112 780" marker-end="url(#a)"/><text class="lb" x="4000" y="847">5.8</text>
</g>

<!-- A4 -->
<g>
<text class="sx" x="4653" y="507" textLength="28" lengthAdjust="spacingAndGlyphs">A4</text>
<text class="ti" x="4653" y="541" textLength="126" lengthAdjust="spacingAndGlyphs">skala  1:10</text>
<rect class="t" x="4622" y="661" width="77" height="61"/>
<path d="M4699 664H4666V719H4699" fill="none" stroke="#000" stroke-width="6"/>
<circle class="t" cx="4634" cy="692" r="5"/><circle class="t" cx="4680" cy="692" r="5"/>
<path class="t" d="M4612 604H4710M4616 610l12-12M4630 610l12-12M4680 610l12-12M4692 610l12-12M4622 595V655M4636 595V655M4686 595V655M4698 595V655M4612 783H4710M4616 789l12-12M4658 789l12-12M4692 789l12-12M4622 775V822M4664 740V790M4699 740V822M4612 816H4710M4616 822l12-12M4692 822l12-12M4752 661V722M4746 667l12-12M4746 692l12-12M4746 728l12-12M4785 661V722M4779 667l12-12M4779 728l12-12M4705 661H4795M4705 692H4760M4705 722H4795"/>
<text class="m" x="4627" y="596">20</text><text class="m" x="4657" y="596">80</text><text class="m" x="4689" y="596">30</text>
<text class="m" x="4642" y="776">70</text><text class="m" x="4681" y="776">60</text><text class="m" x="4660" y="811">130</text>
<text class="m" transform="translate(4745,675) rotate(-90)">50</text><text class="m" transform="translate(4745,708) rotate(-90)">50</text><text class="m" transform="translate(4780,692) rotate(-90)">100</text>
<rect class="b" x="4480" y="650" width="70" height="36" rx="18"/><text class="lb" x="4515" y="675">p66</text><path class="t" d="M4550 668H4565L4618 690" marker-end="url(#a)"/>
<rect class="b" x="4746" y="615" width="70" height="36" rx="18"/><text class="lb" x="4781" y="640">p62</text><path class="t" d="M4746 633H4730L4686 668" marker-end="url(#a)"/>
<text class="lb" x="4500" y="722">2M12 -80 mm</text><path class="t" d="M4429 729H4583L4632 696" marker-end="url(#a)"/><text class="lb" x="4503" y="756">5.8</text>
<text class="lb" x="4518" y="610">3</text><path class="t" d="M4500 617H4570L4662 692" marker-end="url(#a)"/><path class="t" d="M4536 596V637L4560 617Z"/>
<path class="t" d="M4785 595H4735L4690 660" marker-end="url(#a)"/><path class="t" d="M4765 570V593L4785 570"/>
<path class="t" d="M4808 784H4760L4690 725" marker-end="url(#a)"/><path class="t" d="M4778 760V782L4798 760"/>
</g>

<!-- C100 part p62 -->
<g>
<path class="c" d="M3910 1029H4370"/>
<rect class="o" x="3941" y="1000" width="398" height="58"/>
<path class="d" d="M3941 1007H4339M3941 1011H4339M3941 1047H4339M3941 1051H4339"/>
<rect class="w" x="4125" y="988" width="8" height="82"/><path class="t" d="M4124 988V1070M4134 988V1070"/>
<rect class="t" x="4314" y="1013" width="10" height="12" rx="5"/><rect class="t" x="4314" y="1031" width="10" height="12" rx="5"/>
<path class="g" d="M3935 949H4345M3935 1117H4345"/>
<path class="t" d="M3935 955l12-12M4309 955l12-12M4333 955l12-12M3941 935V990M4315 935V990M4339 935V990M3935 1123l12-12M4333 1123l12-12M3941 1070V1130M4339 1070V1130M4405 990V1070M4399 1006l12-12M4399 1052l12-12M4390 1000H4415M4390 1058H4415M4435 1000V1058M4429 1006l12-12M4429 1064l12-12"/>
<text class="m" x="4129" y="941">3677</text><text class="m" x="4365" y="941">40</text><text class="m" x="4138" y="1109">3717</text>
<text class="m" transform="translate(4418,980) rotate(-90)">35</text><text class="m" transform="translate(4418,1030) rotate(-90)">30</text><text class="m" transform="translate(4448,1030) rotate(-90)">100</text><text class="m" transform="translate(4418,1088) rotate(-90)">35</text>
<text class="lb" x="4197" y="912">2Ø13/30</text><path class="t" d="M4150 922H4244L4316 1012" marker-end="url(#a)"/>
<text class="lb" x="4418" y="1128">C 100</text><text class="lb" x="4418" y="1164">3717</text><path class="t" d="M4455 1138H4385L4236 1030" marker-end="url(#a)"/>
<rect class="b" x="4462" y="1122" width="55" height="38" rx="19"/><text class="lb" x="4490" y="1148">p62</text>
</g>

<!-- p63 part -->
<g>
<path class="c" d="M3305 1267H3720"/>
<rect class="o" x="3332" y="1237" width="364" height="59"/>
<path class="d" d="M3332 1244H3696"/><path class="g" d="M3332 1289H3696"/>
<rect class="w" x="3508" y="1226" width="10" height="83"/><path class="t" d="M3507 1226V1309M3519 1226V1309"/>
<path class="t" d="M3755 1237V1296M3749 1243l12-12M3749 1302l12-12M3705 1237H3765M3705 1296H3765M3325 1355H3705M3326 1361l12-12M3690 1361l12-12M3332 1320V1365M3696 1320V1365"/>
<text class="m" transform="translate(3748,1267) rotate(-90)">100</text><text class="m" x="3514" y="1347">1010</text>
<text class="lb" x="3719" y="1188">RP 100x50x4</text><path class="t" d="M3790 1197H3655L3590 1270" marker-end="url(#a)"/>
<text class="lb" x="3722" y="1224">1010</text>
<rect class="b" x="3798" y="1180" width="56" height="38" rx="19"/><text class="lb" x="3826" y="1206">p63</text>
</g>

<!-- p65 part -->
<g>
<path class="c" d="M3890 1280H4300"/>
<rect class="o" x="3916" y="1251" width="364" height="58"/>
<path class="d" d="M3916 1258H4280"/><path class="g" d="M3916 1302H4280"/>
<rect class="w" x="4096" y="1239" width="9" height="82"/><path class="t" d="M4095 1239V1321M4105 1239V1321"/>
<path class="t" d="M4320 1251V1309M4314 1257l12-12M4314 1315l12-12M4290 1251H4330M4290 1309H4330M3910 1368H4290M3910 1374l12-12M4274 1374l12-12M3916 1330V1380M4280 1330V1380"/>
<text class="m" transform="translate(4335,1280) rotate(-90)">100</text><text class="m" x="4098" y="1360">2990</text>
<text class="lb" x="4303" y="1202">RP 100x50x4</text><path class="t" d="M4378 1210H4233L4178 1280" marker-end="url(#a)"/>
<text class="lb" x="4305" y="1237">2990</text>
<rect class="b" x="4382" y="1194" width="56" height="38" rx="19"/><text class="lb" x="4410" y="1220">p65</text>
</g>

<!-- p64 part -->
<g>
<path class="c" d="M3175 1529H4440"/>
<rect class="o" x="3206" y="1500" width="1207" height="59"/>
<path class="d" d="M3206 1507H4413M3206 1552H4413"/>
<rect class="w" x="3384" y="1488" width="10" height="82"/><rect class="w" x="3805" y="1488" width="9" height="82"/><rect class="w" x="4228" y="1488" width="10" height="82"/>
<path class="t" d="M3383 1488V1570M3395 1488V1570M3804 1488V1570M3814 1488V1570M4227 1488V1570M4238 1488V1570"/>
<circle class="t" cx="3575" cy="1529" r="4"/><circle class="t" cx="3623" cy="1529" r="4"/><circle class="t" cx="3997" cy="1529" r="4"/><circle class="t" cx="4044" cy="1529" r="4"/>
<path class="t" d="M3200 1447H4420M3200 1453l12-12M3566 1453l12-12M3614 1453l12-12M3985 1453l12-12M4031 1453l12-12M4407 1453l12-12M3206 1435V1490M3575 1435V1480M3623 1435V1480M3997 1435V1480M4044 1435V1480M4413 1435V1490M3200 1617H4420M3200 1623l12-12M4407 1623l12-12M3206 1580V1630M4413 1580V1630M4455 1500V1559M4449 1506l12-12M4449 1565l12-12M4425 1500H4465M4425 1559H4465"/>
<text class="m" x="3389" y="1440">948</text><text class="m" x="3598" y="1440">80</text><text class="m" x="3808" y="1440">920</text><text class="m" x="4018" y="1440">80</text><text class="m" x="4227" y="1440">962</text>
<text class="m" x="3808" y="1609">2990</text>
<text class="m" transform="translate(4470,1529) rotate(-90)">100</text>
<text class="m" transform="translate(3550,1515) rotate(-90)">50</text><text class="m" transform="translate(3550,1548) rotate(-90)">50</text><text class="m" transform="translate(3972,1515) rotate(-90)">50</text><text class="m" transform="translate(3972,1548) rotate(-90)">50</text>
<text class="lb" x="3645" y="1586">2Ø13</text><path class="t" d="M3676 1595H3611L3577 1533" marker-end="url(#a)"/>
<text class="lb" x="4070" y="1586">2Ø13</text><path class="t" d="M4101 1595H4036L3999 1533" marker-end="url(#a)"/>
<text class="lb" x="4516" y="1588">RP 100x50x4</text><path class="t" d="M4590 1596H4440L4345 1532" marker-end="url(#a)"/>
<text class="lb" x="4516" y="1630">2990</text>
<rect class="b" x="4594" y="1586" width="56" height="38" rx="19"/><text class="lb" x="4622" y="1612">p64</text>
</g>

<!-- p66 plate -->
<g>
<rect class="t" x="4746" y="910" width="77" height="59"/>
<circle class="t" cx="4758" cy="940" r="4"/><circle class="t" cx="4805" cy="940" r="4"/>
<path class="c" d="M4735 940H4835"/>
<path class="t" d="M4700 854H4830M4740 860l12-12M4817 860l12-12M4746 845V905M4823 845V905M4740 1028H4860M4740 1034l12-12M4811 1034l12-12M4840 1034l12-12M4746 990V1070M4823 990V1040M4846 990V1040M4740 1067H4860M4740 1073l12-12M4840 1073l12-12M4880 910V969M4874 916l12-12M4874 946l12-12M4874 975l12-12M4860 910H4890M4860 969H4890M4920 910V969M4914 916l12-12M4914 975l12-12"/>
<text class="m" x="4718" y="841">20</text><text class="m" x="4791" y="841">110</text>
<text class="m" x="4772" y="1021">100</text><text class="m" x="4848" y="1021">30</text><text class="m" x="4785" y="1061">130</text>
<text class="m" transform="translate(4873,925) rotate(-90)">50</text><text class="m" transform="translate(4873,958) rotate(-90)">50</text><text class="m" transform="translate(4913,940) rotate(-90)">100</text>
<rect class="b" x="4505" y="877" width="52" height="42" rx="21"/><text class="lb" x="4531" y="905">p66</text>
<text class="lb" x="4640" y="886">Blacha 8x100</text><path class="t" d="M4557 893H4710L4745 936" marker-end="url(#a)"/>
<text class="lb" x="4640" y="921">130</text>
<text class="lb" x="4687" y="946">2Ø13</text><path class="t" d="M4660 953H4725L4755 942" marker-end="url(#a)"/>
</g>

<!-- p67 plate -->
<g>
<rect class="t" x="4743" y="1190" width="91" height="59"/>
<circle class="t" cx="4764" cy="1201" r="4"/><circle class="t" cx="4819" cy="1201" r="4"/><circle class="t" cx="4819" cy="1237" r="4"/>
<path class="t" d="M4730 1134H4870M4737 1140l12-12M4757 1140l12-12M4814 1140l12-12M4828 1140l12-12M4743 1120V1185M4834 1120V1185M4730 1306H4870M4737 1312l12-12M4815 1312l12-12M4828 1312l12-12M4743 1260V1350M4834 1260V1350M4730 1349H4850M4737 1355l12-12M4828 1355l12-12M4690 1180V1260M4684 1196l12-12M4684 1243l12-12M4675 1190H4740M4675 1237H4740M4890 1180V1260M4884 1196l12-12M4884 1243l12-12M4850 1190H4900M4850 1249H4900M4930 1190V1249M4924 1196l12-12M4924 1255l12-12"/>
<text class="m" x="4719" y="1124">30</text><text class="m" x="4789" y="1124">90</text><text class="m" x="4860" y="1124">30</text>
<text class="m" x="4785" y="1299">130</text><text class="m" x="4860" y="1299">20</text><text class="m" x="4789" y="1341">150</text>
<text class="m" transform="translate(4680,1167) rotate(-90)">20</text><text class="m" transform="translate(4680,1222) rotate(-90)">80</text>
<text class="m" transform="translate(4884,1165) rotate(-90)">20</text><text class="m" transform="translate(4884,1220) rotate(-90)">60</text><text class="m" transform="translate(4884,1275) rotate(-90)">20</text><text class="m" transform="translate(4924,1220) rotate(-90)">100</text>
<rect class="b" x="4434" y="1238" width="52" height="42" rx="21"/><text class="lb" x="4460" y="1266">p67</text>
<text class="lb" x="4572" y="1248">Blacha 10x100</text><path class="t" d="M4486 1258H4650L4755 1217" marker-end="url(#a)"/>
<text class="lb" x="4572" y="1285">150</text>
<text class="lb" x="4669" y="1322">1Ø14</text><path class="t" d="M4640 1332H4700L4815 1240" marker-end="url(#a)"/>
<text class="lb" x="4917" y="1135">2Ø14</text><path class="t" d="M4955 1143H4880L4821 1203" marker-end="url(#a)"/>
</g>

<!-- p68 plate -->
<g>
<rect class="t" x="4899" y="1514" width="63" height="58"/>
<circle class="t" cx="4910" cy="1543" r="4"/>
<path class="t" d="M4860 1447H4960M4893 1453l12-12M4911 1453l12-12M4899 1430V1500M4917 1430V1480M4893 1630H4960M4893 1636l12-12M4899 1590V1640"/>
<text class="m" x="4872" y="1440">20</text><text class="m" x="4935" y="1440">110</text><text class="m" x="4925" y="1622">150</text>
<rect class="b" x="4661" y="1478" width="52" height="42" rx="21"/><text class="lb" x="4687" y="1506">p68</text>
<text class="lb" x="4793" y="1489">Blacha 8x100</text><path class="t" d="M4713 1499H4870L4905 1538" marker-end="url(#a)"/>
<text class="lb" x="4793" y="1525">150</text>
<text class="lb" x="4843" y="1552">2Ø13</text><path class="t" d="M4815 1560H4875L4908 1546" marker-end="url(#a)"/>
</g>
</svg>
</body></html>
